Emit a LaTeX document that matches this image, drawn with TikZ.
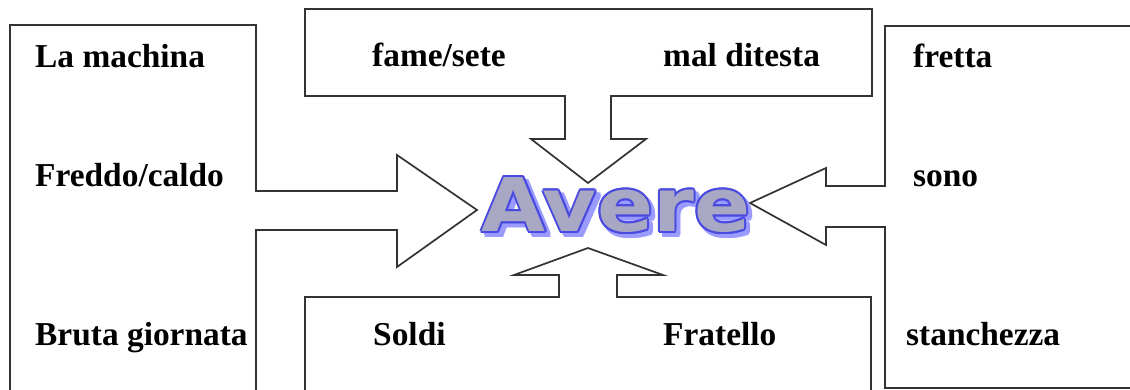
\documentclass[tikz,border=0pt]{standalone}
\usepackage{fontspec}
\usetikzlibrary{calc}
\setmainfont{Liberation Serif}
\newfontfamily\averefont{DejaVu Sans}
\newcommand{\palbf}{\bfseries\fontsize{33.4}{37}\selectfont}
\definecolor{linegray}{HTML}{333333}
\definecolor{avfill}{HTML}{A8A8C4}
\definecolor{avline}{HTML}{4A4AE0}
\definecolor{avshadow}{HTML}{9A9AFF}
\tikzset{
  callout/.style={draw=linegray, line width=1.7pt, line join=miter, fill=white},
  lbl/.style={anchor=base west, inner sep=0pt, font=\palbf, text=black},
  avtext/.style={inner sep=0pt, xscale=1.12, font=\averefont\bfseries\fontsize{74}{80}\selectfont},
}
\begin{document}
\begin{tikzpicture}[x=1pt,y=-1pt]
\useasboundingbox (0,0) rectangle (1130,390);
\clip (0,0) rectangle (1130,390);
% left callout
\draw[callout] (10,400) -- (10,25) -- (256,25) -- (256,191) -- (397,191) -- (397,155) -- (477,210) -- (397,267) -- (397,230) -- (256,230) -- (256,400);
% top callout
\draw[callout] (305,9) -- (872,9) -- (872,96) -- (611,96) -- (611,139) -- (646,139) -- (588,183) -- (531,139) -- (565,139) -- (565,96) -- (305,96) -- cycle;
% bottom callout
\draw[callout] (305,400) -- (305,297) -- (559,297) -- (559,275) -- (514,275) -- (588,248) -- (663,275) -- (617,275) -- (617,297) -- (871,297) -- (871,400);
% right callout
\draw[callout] (1140,26) -- (885,26) -- (885,186) -- (826,186) -- (826,168) -- (750,203) -- (826,245) -- (826,227) -- (885,227) -- (885,388) -- (1140,388);
% labels
\node[lbl] (t1) at (35,68) {La machina};
\node[lbl] (t2) at (35,187) {Freddo/caldo};
\node[lbl] (t3) at (35,345) {Bruta giornata};
\node[lbl] (t4) at (372,67) {fame/sete};
\node[lbl] (t5) at (663,67) {mal ditesta};
\node[lbl] (t6) at (913,68) {fretta};
\node[lbl] (t7) at (913,187) {sono};
\node[lbl] (t8) at (906,345) {stanchezza};
\node[lbl] (t9) at (373,345) {Soldi};
\node[lbl] (t10) at (663,345) {Fratello};
% Avere
\coordinate (c) at (616,205);
\foreach \a in {0,45,...,315}{
  \node[avtext, text=avshadow] at ($(c)+(4,4)+(\a:2.2)$) {Avere};
}
\foreach \a in {0,30,...,330}{
  \node[avtext, text=avline] at ($(c)+(\a:2)$) {Avere};
}
\node[avtext, text=avfill] (avere) at (c) {Avere};
\end{tikzpicture}
\end{document}
